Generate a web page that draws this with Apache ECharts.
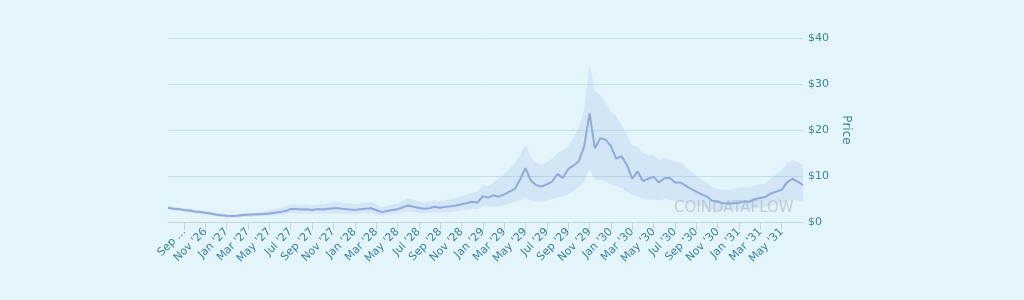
<!DOCTYPE html>
<html>
<head>
<meta charset="utf-8">
<script src="https://cdn.jsdelivr.net/npm/echarts@6/dist/echarts.min.js"></script>
<style>
  html, body { margin: 0; padding: 0; background: #e3f4fb; }
  #chart { width: 1024px; height: 300px; }
</style>
</head>
<body>
<div id="chart"></div>
<script>
// categories: half-month steps, mid Jul '26 .. 1 Jul '31
var categories = ['2026-07-15'];
for (var y = 2026, m = 8; y < 2031 || m <= 7; ) {
	var mm = (m < 10 ? '0' : '') + m;
	categories.push(y + '-' + mm + '-01');
	if (!(y === 2031 && m === 7)) categories.push(y + '-' + mm + '-15');
	m++;
	if (m > 12) { m = 1; y++; }
}

var tickLabels = ["Sep ...", "Nov '26", "Jan '27", "Mar '27", "May '27", "Jul '27", "Sep '27", "Nov '27",
	"Jan '28", "Mar '28", "May '28", "Jul '28", "Sep '28", "Nov '28", "Jan '29", "Mar '29", "May '29",
	"Jul '29", "Sep '29", "Nov '29", "Jan '30", "Mar '30", "May '30", "Jul '30", "Sep '30", "Nov '30",
	"Jan '31", "Mar '31", "May '31"];

var priceValues = [
	3.1, 2.9, 2.8, 2.6, 2.5, 2.3, 2.15, 2.0, 1.85, 1.6,
	1.45, 1.35, 1.3, 1.35, 1.5, 1.6, 1.65, 1.7, 1.75, 1.85,
	2.0, 2.15, 2.4, 2.8, 2.8, 2.7, 2.75, 2.6, 2.8, 2.7,
	2.9, 3.0, 3.0, 2.8, 2.7, 2.6, 2.75, 2.9, 3.0, 2.6,
	2.15, 2.4, 2.6, 2.75, 3.2, 3.6, 3.3, 3.1, 2.9, 3.0,
	3.3, 3.1, 3.3, 3.4, 3.6, 3.85, 4.1, 4.4, 4.2, 5.6,
	5.3, 5.8, 5.5, 6.0, 6.6, 7.2, 9.3, 11.7, 9.0, 8.0,
	7.7, 8.2, 8.8, 10.4, 9.6, 11.5, 12.3, 13.2, 16.5, 23.6,
	16.0, 18.2, 17.9, 16.5, 13.8, 14.3, 12.4, 9.4, 11.0, 8.9,
	9.4, 9.8, 8.6, 9.5, 9.6, 8.6, 8.6, 7.9, 7.2, 6.6,
	6.0, 5.5, 4.6, 4.4, 4.1, 4.0, 4.1, 4.2, 4.5, 4.4,
	5.0, 5.2, 5.5, 6.2, 6.6, 7.0, 8.6, 9.4, 8.8, 8.0
];

var highValues = [
	3.5, 3.3, 3.2, 3.0, 2.9, 2.7, 2.55, 2.4, 2.25, 2.0,
	1.85, 1.75, 1.7, 1.75, 1.9, 2.0, 2.1, 2.2, 2.3, 2.5,
	2.7, 3.0, 3.4, 3.8, 3.8, 3.7, 3.8, 3.6, 3.8, 3.8,
	4.1, 4.3, 4.4, 4.0, 4.0, 3.8, 4.0, 4.2, 4.3, 3.8,
	3.2, 3.5, 3.8, 4.0, 4.6, 5.1, 4.8, 4.5, 4.2, 4.4,
	4.7, 4.5, 4.8, 5.0, 5.2, 5.6, 6.0, 6.4, 6.5, 8.0,
	7.8, 8.6, 9.5, 10.6, 11.5, 12.8, 14.5, 17.0, 14.0, 12.8,
	12.5, 13.0, 13.8, 15.0, 15.5, 16.5, 18.5, 20.5, 24.5, 34.5,
	28.5, 27.5, 26.0, 24.0, 23.0, 21.0, 19.0, 16.5, 16.5, 15.0,
	14.5, 14.5, 13.5, 14.0, 13.5, 13.0, 13.0, 11.8, 11.0, 10.0,
	9.3, 8.5, 7.6, 7.2, 7.0, 7.0, 7.2, 7.5, 7.6, 7.6,
	8.0, 8.2, 8.4, 9.5, 10.5, 11.2, 12.8, 13.5, 13.0, 12.5
];

var lowValues = [
	2.7, 2.5, 2.4, 2.2, 2.1, 1.9, 1.75, 1.6, 1.5, 1.25,
	1.1, 1.0, 0.95, 1.0, 1.1, 1.2, 1.25, 1.3, 1.3, 1.35,
	1.45, 1.5, 1.7, 1.95, 1.95, 1.85, 1.9, 1.8, 1.9, 1.85,
	1.9, 1.9, 1.9, 1.8, 1.75, 1.7, 1.8, 1.9, 1.95, 1.7,
	1.4, 1.55, 1.7, 1.8, 2.1, 2.3, 2.15, 2.0, 1.9, 1.95,
	2.1, 2.0, 2.1, 2.2, 2.35, 2.5, 2.7, 2.9, 2.8, 3.4,
	3.3, 3.4, 3.4, 3.7, 4.0, 4.4, 4.8, 5.4, 4.6, 4.4,
	4.4, 4.7, 5.0, 5.4, 5.5, 6.2, 6.8, 7.6, 8.8, 11.5,
	9.3, 9.2, 8.8, 8.2, 7.8, 7.4, 6.6, 5.8, 5.6, 5.0,
	4.9, 4.9, 4.7, 5.0, 4.8, 4.6, 4.5, 4.1, 3.9, 3.6,
	3.3, 3.1, 2.8, 2.6, 2.6, 2.5, 2.6, 2.6, 2.7, 2.7,
	3.0, 3.1, 3.3, 3.6, 3.9, 4.1, 4.6, 4.9, 4.6, 4.4
];

var yTicks = [0, 10, 20, 30, 40];

// which categories carry a tick/label: the 1st of odd months
var labelIndex = {};
var k = 0;
categories.forEach(function(c, i) {
	var p = c.split('-');
	if (p[2] === '01' && (+p[1]) % 2 === 1 && k < tickLabels.length) {
		labelIndex[i] = tickLabels[k];
		k++;
	}
});
function isTick(i) { return labelIndex.hasOwnProperty(i); }

var bandWidth = highValues.map(function(h, i) { return +(h - lowValues[i]).toFixed(2); });

var textColor = '#3a8499';
var font = 'DejaVu Sans';

var chart = echarts.init(document.getElementById('chart'));
chart.setOption({
	backgroundColor: '#e3f4fb',
	animation: false,
	grid: { left: 168, right: 221, top: 38, bottom: 78 },
	xAxis: {
		type: 'category',
		data: categories,
		boundaryGap: false,
		axisLine: { lineStyle: { color: '#c3d9e2' } },
		axisTick: {
			length: 8,
			interval: function(i) { return isTick(i); },
			lineStyle: { color: '#c3d9e2' }
		},
		axisLabel: {
			rotate: 45,
			margin: 8,
			interval: function(i) { return isTick(i); },
			formatter: function(v, i) { return labelIndex[i] || ''; },
			color: textColor,
			fontFamily: font,
			fontSize: 11
		},
		splitLine: { show: false }
	},
	yAxis: {
		type: 'value',
		position: 'right',
		min: yTicks[0],
		max: yTicks[yTicks.length - 1],
		interval: 10,
		name: 'Price',
		nameLocation: 'middle',
		nameRotate: -90,
		nameGap: 29,
		nameTextStyle: { color: textColor, fontFamily: font, fontSize: 12 },
		axisLine: { show: false },
		axisTick: { show: false },
		axisLabel: {
			margin: 5,
			color: textColor,
			fontFamily: font,
			fontSize: 11,
			formatter: function(v) { return '$' + v; }
		},
		splitLine: { lineStyle: { color: '#c6dde6', width: 1 } }
	},
	graphic: [{
		type: 'text',
		left: 674,
		top: 201,
		silent: true,
		style: {
			text: 'COINDATAFLOW',
			fill: 'rgba(160,170,178,0.5)',
			font: '15px "DejaVu Sans"'
		}
	}],
	series: [{
		name: 'low',
		type: 'line',
		data: lowValues,
		stack: 'band',
		symbol: 'none',
		lineStyle: { opacity: 0 },
		silent: true
	}, {
		name: 'range',
		type: 'line',
		data: bandWidth,
		stack: 'band',
		symbol: 'none',
		lineStyle: { opacity: 0 },
		areaStyle: { color: 'rgba(160,186,232,0.36)' },
		silent: true
	}, {
		name: 'Price',
		type: 'line',
		data: priceValues,
		symbol: 'none',
		lineStyle: { color: '#92a9dc', width: 2 },
		z: 5
	}]
});
</script>
</body>
</html>
